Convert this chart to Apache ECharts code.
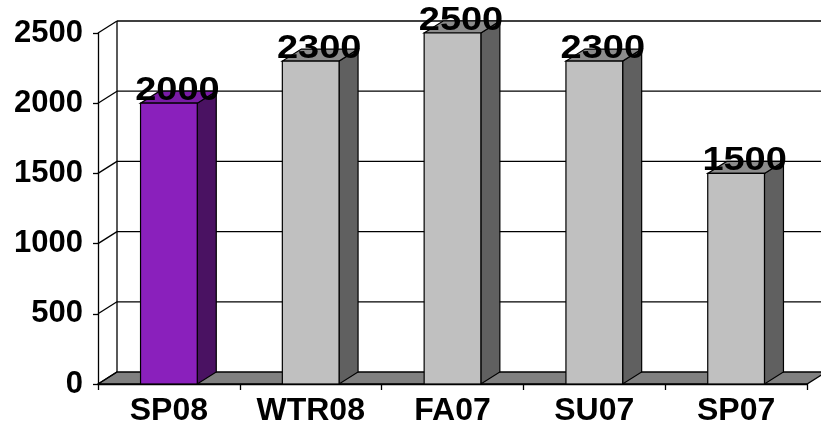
<!DOCTYPE html>
<html>
<head>
<meta charset="utf-8">
<script src="https://cdn.jsdelivr.net/npm/echarts@6/dist/echarts.min.js"></script>
<style>html,body{margin:0;padding:0;background:#fff}#c{width:821px;height:427px}</style>
</head>
<body>
<div id="c"></div>
<script>
const categories = ['SP08', 'WTR08', 'FA07', 'SU07', 'SP07'];
const values = [2000, 2300, 2500, 2300, 1500];
const yTicks = [0, 500, 1000, 1500, 2000, 2500];
const highlightIndex = 0;

const DX = 19, DY = 12;
const FONT = '"Liberation Sans", Arial, sans-serif';
const chart = echarts.init(document.getElementById('c'), null, {renderer: 'canvas'});

function floorItem(params, api) {
  const cs = params.coordSys;
  const y0 = api.coord([0, 0])[1];
  const yTop = api.coord([0, yTicks[yTicks.length - 1]])[1];
  const x0 = cs.x, x1 = cs.x + cs.width;
  return {
    type: 'group',
    children: [
      {type: 'polygon', shape: {points: [[x0, y0], [x1, y0], [x1 + DX, y0 - DY], [x0 + DX, y0 - DY]]},
       style: {fill: '#808080', stroke: '#000', lineWidth: 1.3}},
      {type: 'line', shape: {x1: x0 + DX, y1: y0 - DY, x2: x0 + DX, y2: yTop - DY},
       style: {stroke: '#000', lineWidth: 1.3}}
    ]
  };
}

function gridItem(params, api) {
  const cs = params.coordSys;
  const v = api.value(0);
  const y = api.coord([0, v])[1];
  const x0 = cs.x, x1 = cs.x + cs.width;
  const children = [
    {type: 'line', shape: {x1: x0, y1: y, x2: x0 + DX, y2: y - DY}, style: {stroke: '#000', lineWidth: 1.3}}
  ];
  if (v !== 0) {
    children.push({type: 'line', shape: {x1: x0 + DX, y1: y - DY, x2: x1 + DX, y2: y - DY}, style: {stroke: '#000', lineWidth: 1.3}});
  }
  return {type: 'group', children};
}

function barItem(params, api) {
  const idx = api.value(0);
  const val = api.value(1);
  const top = api.coord([idx, val]);
  const base = api.coord([idx, 0]);
  const band = api.size([1, 0])[0];
  const w = band * 0.40;
  const xl = top[0] - w / 2, xr = top[0] + w / 2;
  const yt = top[1], yb = base[1];
  const hl = idx === highlightIndex;
  const front = hl ? '#8A20BC' : '#C0C0C0';
  const side = hl ? '#4A1262' : '#606060';
  const topC = hl ? '#7A1CA6' : '#8C8C8C';
  const st = {stroke: '#000', lineWidth: 1.2};
  return {
    type: 'group',
    children: [
      {type: 'polygon', shape: {points: [[xr, yt], [xr + DX, yt - DY], [xr + DX, yb - DY], [xr, yb]]}, style: Object.assign({fill: side}, st)},
      {type: 'polygon', shape: {points: [[xl, yt], [xr, yt], [xr + DX, yt - DY], [xl + DX, yt - DY]]}, style: Object.assign({fill: topC}, st)},
      {type: 'rect', shape: {x: xl, y: yt, width: w, height: yb - yt}, style: Object.assign({fill: front}, st)},
      {type: 'text', x: top[0] + DX / 2 - 1, y: yt - 12, scaleX: 1.15,
       style: {text: String(val), x: 0, y: 0, align: 'center', verticalAlign: 'middle',
               font: 'bold 33px ' + FONT, fill: '#000'}}
    ]
  };
}

chart.setOption({
  animation: false,
  backgroundColor: '#fff',
  grid: {left: 98, right: 14, top: 33, bottom: 43},
  xAxis: {
    type: 'category', data: categories, boundaryGap: true,
    axisLine: {show: true, lineStyle: {color: '#000', width: 1.3}},
    axisTick: {show: true, length: 6, lineStyle: {color: '#000', width: 1.3}},
    axisLabel: {color: '#000', fontFamily: FONT, fontWeight: 'bold', fontSize: 32, margin: 11},
    splitLine: {show: false}, z: 5
  },
  yAxis: {
    type: 'value', min: 0, max: 2500, interval: 500,
    axisLine: {show: true, lineStyle: {color: '#000', width: 1.3}},
    axisTick: {show: true, length: 5, lineStyle: {color: '#000', width: 1.3}},
    axisLabel: {color: '#000', fontFamily: FONT, fontWeight: 'bold', fontSize: 31, margin: 15,
                formatter: v => String(v)},
    splitLine: {show: false}, z: 5
  },
  series: [
    {type: 'custom', name: 'floor', renderItem: floorItem, data: [[0]], z: 1, silent: true, clip: false},
    {type: 'custom', name: 'grid', renderItem: gridItem, data: yTicks.map(v => [v]), encode: {y: 0}, z: 2, silent: true, clip: false},
    {type: 'custom', name: 'bars', renderItem: barItem, data: values.map((v, i) => [i, v]), encode: {x: 0, y: 1}, z: 3, clip: false}
  ]
});
</script>
</body>
</html>
